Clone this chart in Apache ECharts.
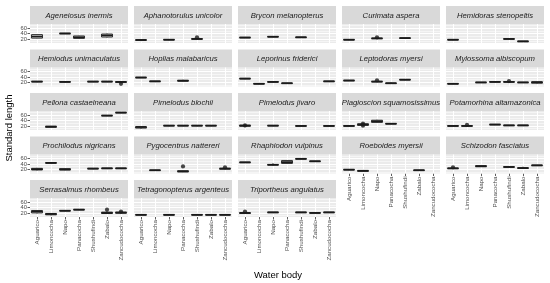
<!DOCTYPE html>
<html><head><meta charset="utf-8">
<script src="https://cdn.jsdelivr.net/npm/echarts@6/dist/echarts.min.js"></script>
<style>html,body{margin:0;padding:0;background:#fff}#c{width:550px;height:283px}</style>
</head><body><div id="c"></div>
<script>
// ---------- DATA ----------
const waterBodies = ['Aguarico','Limoncocha','Napo','Panacocha','Shushufindi','Zabalo','Zancudococha'];
const yTicks = [20, 40, 60];
const species = [
  'Ageneiosus inermis','Aphanotorulus unicolor','Brycon melanopterus','Curimata aspera','Hemidoras stenopeltis',
  'Hemiodus unimaculatus','Hoplias malabaricus','Leporinus friderici','Leptodoras myersi','Mylossoma albiscopum',
  'Pellona castaelneana','Pimelodus blochii','Pimelodus jivaro','Plagioscion squamosissimus','Potamorhina altamazonica',
  'Prochilodus nigricans','Pygocentrus nattereri','Rhaphiodon vulpinus','Roeboides myersii','Schizodon fasciatus',
  'Serrasalmus rhombeus','Tetragonopterus argenteus','Triportheus angulatus'
];
// [water body, min, q1, median, q3, max]
const ageneiosusInermis = [['Aguarico',22,23,29,36,37],['Napo',38,39,40,41,42],['Panacocha',21,22,26,31,32],['Zabalo',25,27,33,38,40]];
const aphanotorulusUnicolor = [['Aguarico',12,15,16,17,18],['Napo',15,16,17,18,18],['Shushufindi',18,19,20,21,22]];
const bryconMelanopterus = [['Aguarico',23,24,25,26,26],['Napo',26,27,28,29,29],['Shushufindi',25,25,26,27,27]];
const curimataAspera = [['Aguarico',15,16,17,18,18],['Napo',20,21,22,23,23],['Shushufindi',22,22,23,24,24]];
const hemidorasStenopeltis = [['Aguarico',15,16,17,18,18],['Shushufindi',18,19,20,21,21],['Zabalo',9,10,11,12,12]];
const hemiodusUnimaculatus = [['Aguarico',21,22,23,24,24],['Napo',19,21,22,23,25],['Shushufindi',22,22,23,24,24],['Zabalo',22,22,23,24,24],['Zancudococha',16,20,22,23,24]];
const hopliasMalabaricus = [['Aguarico',36,37,38,39,39],['Limoncocha',22,23,24,25,25],['Panacocha',24,25,26,28,30]];
const leporinusFriderici = [['Aguarico',32,33,34,35,35],['Limoncocha',13,14,15,16,16],['Napo',20,21,22,23,23],['Panacocha',15,16,17,18,18],['Zancudococha',22,23,24,25,25]];
const leptodorasMyersi = [['Aguarico',25,26,27,28,28],['Napo',21,22,23,24,24],['Panacocha',14,16,17,18,20],['Shushufindi',28,29,30,31,31]];
const mylossomaAlbiscopum = [['Aguarico',13,14,15,16,16],['Napo',18,19,20,21,21],['Panacocha',20,21,22,23,23],['Shushufindi',20,21,22,23,23],['Zabalo',18,19,20,21,21],['Zancudococha',14,17,21,22,22]];
const pellonaCastaelneana = [['Limoncocha',14,15,17,19,20],['Zabalo',56,57,58,59,59],['Zancudococha',67,68,69,70,70]];
const pimelodusBlochii = [['Aguarico',9,12,16,17,17],['Napo',19,20,21,22,22],['Panacocha',19,20,21,22,22],['Shushufindi',19,20,21,22,22],['Zabalo',19,20,21,22,22]];
const pimelodusJivaro = [['Aguarico',15,19,21,23,27],['Napo',19,20,21,22,22],['Shushufindi',18,19,20,21,21],['Zancudococha',18,19,20,21,21]];
const plagioscionSquamosissimus = [['Aguarico',18,19,20,21,21],['Limoncocha',18,22,25,28,32],['Napo',31,33,37,41,43],['Panacocha',26,27,28,29,29]];
const potamorhinaAltamazonica = [['Aguarico',18,19,20,21,21],['Limoncocha',18,19,20,21,22],['Panacocha',23,24,25,26,26],['Shushufindi',20,21,22,23,23],['Zabalo',20,21,22,23,23]];
const prochilodusNigricans = [['Aguarico',16,18,21,24,26],['Limoncocha',42,43,44,45,45],['Napo',17,18,20,23,24],['Shushufindi',21,22,23,24,24],['Zabalo',22,23,24,25,25],['Zancudococha',22,23,24,25,25]];
const pygocentrusNattereri = [['Limoncocha',15,16,17,18,18],['Panacocha',10,11,13,15,16],['Zancudococha',20,21,23,24,25]];
const rhaphiodonVulpinus = [['Aguarico',44,45,46,47,47],['Napo',33,36,37,38,43],['Panacocha',40,42,47,53,54],['Shushufindi',57,58,59,60,60],['Zabalo',48,49,50,51,51]];
const roeboidesMyersii = [['Aguarico',17,18,19,20,20],['Limoncocha',12,13,15,16,17],['Zabalo',15,16,17,18,18]];
const schizodonFasciatus = [['Aguarico',21,23,24,25,26],['Napo',29,30,32,34,34],['Shushufindi',27,28,29,30,30],['Zabalo',22,24,25,26,30],['Zancudococha',33,34,35,36,36]];
const serrasalmusRhombeus = [['Aguarico',18,20,25,29,30],['Limoncocha',11,13,16,18,19],['Napo',26,27,28,29,29],['Panacocha',30,31,32,33,33],['Zabalo',16,18,20,23,26],['Zancudococha',17,19,21,23,25]];
const tetragonopterusArgenteus = [['Aguarico',11,12,13,14,14],['Napo',11,12,13,14,14],['Shushufindi',11,12,13,14,14],['Zabalo',11,12,13,14,14],['Zancudococha',11,12,13,14,14]];
const triportheusAngulatus = [['Aguarico',16,18,20,21,22],['Napo',20,21,22,23,23],['Shushufindi',20,21,22,23,23],['Zabalo',18,19,20,21,21],['Zancudococha',20,21,22,23,23]];
// [species, water body, value]
const outlierPoints = [
  ['Aphanotorulus unicolor','Shushufindi',26],
  ['Curimata aspera','Napo',26],
  ['Hemiodus unimaculatus','Zancudococha',15],
  ['Leptodoras myersi','Napo',28],
  ['Mylossoma albiscopum','Shushufindi',25],
  ['Pimelodus jivaro','Aguarico',22],
  ['Plagioscion squamosissimus','Limoncocha',21],
  ['Plagioscion squamosissimus','Limoncocha',29],
  ['Potamorhina altamazonica','Limoncocha',24],
  ['Pygocentrus nattereri','Panacocha',31],
  ['Pygocentrus nattereri','Zancudococha',28],
  ['Schizodon fasciatus','Aguarico',28],
  ['Serrasalmus rhombeus','Zabalo',32],
  ['Serrasalmus rhombeus','Zancudococha',25],
  ['Triportheus angulatus','Aguarico',25]
];
const panelBoxes = [
  ageneiosusInermis, aphanotorulusUnicolor, bryconMelanopterus, curimataAspera, hemidorasStenopeltis,
  hemiodusUnimaculatus, hopliasMalabaricus, leporinusFriderici, leptodorasMyersi, mylossomaAlbiscopum,
  pellonaCastaelneana, pimelodusBlochii, pimelodusJivaro, plagioscionSquamosissimus, potamorhinaAltamazonica,
  prochilodusNigricans, pygocentrusNattereri, rhaphiodonVulpinus, roeboidesMyersii, schizodonFasciatus,
  serrasalmusRhombeus, tetragonopterusArgenteus, triportheusAngulatus
];

// ---------- LAYOUT ----------
const COL_LEFT = 30, COL_PITCH = 104, PANEL_W = 98;
const ROW_TOP = 6, ROW_PITCH = 43.5, STRIP_H = 18, PLOT_H = 19;
const Y_MIN = 5, Y_MAX = 75;
const FONT = '"Liberation Sans", Arial, sans-serif';

const chart = echarts.init(document.getElementById('c'), null, {renderer: 'canvas'});

function renderBox(params, api) {
  const x = api.value(0);
  const pMin = api.coord([x, api.value(1)]);
  const pQ1 = api.coord([x, api.value(2)]);
  const pMed = api.coord([x, api.value(3)]);
  const pQ3 = api.coord([x, api.value(4)]);
  const pMax = api.coord([x, api.value(5)]);
  const w = api.size([1, 0])[0] * 0.78;
  const cx = pMed[0];
  const stroke = '#333333';
  return {
    type: 'group',
    children: [
      {type: 'line', shape: {x1: cx, y1: pMin[1], x2: cx, y2: pQ1[1]}, style: {stroke, lineWidth: 1}},
      {type: 'line', shape: {x1: cx, y1: pQ3[1], x2: cx, y2: pMax[1]}, style: {stroke, lineWidth: 1}},
      {type: 'rect', shape: {x: cx - w / 2, y: pQ3[1], width: w, height: Math.max(pQ1[1] - pQ3[1], 0.1)},
        style: {fill: '#ffffff', stroke, lineWidth: 1}},
      {type: 'line', shape: {x1: cx - w / 2, y1: pMed[1], x2: cx + w / 2, y2: pMed[1]}, style: {stroke: '#1a1a1a', lineWidth: 1.8}}
    ]
  };
}

const grids = [], xAxes = [], yAxes = [], series = [], graphics = [];
const minorLine = {color: '#ffffff', width: 0.5, type: 'solid'};
const majorLine = {color: '#ffffff', width: 1.1, type: 'solid'};

species.forEach((name, i) => {
  const col = i % 5, row = Math.floor(i / 5);
  const left = COL_LEFT + col * COL_PITCH;
  const stripTop = ROW_TOP + row * ROW_PITCH;
  const top = stripTop + STRIP_H;
  const isBottom = row === 4 || (row === 3 && col >= 3);
  grids.push({left, top, width: PANEL_W, height: PLOT_H, show: true, backgroundColor: '#EBEBEB', borderWidth: 0, containLabel: false});
  xAxes.push({
    gridIndex: i, type: 'category', data: waterBodies, boundaryGap: true, position: 'bottom',
    axisLine: {show: false},
    axisTick: {show: isBottom, alignWithLabel: true, length: 2.5, lineStyle: {color: '#333333', width: 0.8}},
    axisLabel: {show: isBottom, rotate: 90, interval: 0, fontSize: 6.2, color: '#4D4D4D', margin: 3, fontFamily: FONT},
    splitLine: {show: false}
  });
  const yIdx = yAxes.length;
  yAxes.push({
    gridIndex: i, type: 'value', min: Y_MIN, max: Y_MAX, position: 'left', offset: 0,
    axisLine: {show: false}, axisTick: {show: false}, axisLabel: {show: false}, splitLine: {show: false}
  });
  if (col === 0) {
    // one label axis per tick value so the tightly packed labels are not dropped as overlapping
    yTicks.forEach(v => {
      yAxes.push({
        gridIndex: i, type: 'value', min: Y_MIN, max: Y_MAX, position: 'left', offset: 0,
        axisLine: {show: false}, splitLine: {show: false},
        axisTick: {show: true, customValues: [v], length: 2.5, lineStyle: {color: '#333333', width: 0.8}},
        axisLabel: {show: true, customValues: [v], fontSize: 5.8, color: '#4D4D4D', margin: 3, fontFamily: FONT}
      });
    });
  }
  const lines = [];
  [10, 30, 50, 70].forEach(v => lines.push({yAxis: v, lineStyle: minorLine}));
  yTicks.forEach(v => lines.push({yAxis: v, lineStyle: majorLine}));
  waterBodies.forEach(w => lines.push({xAxis: w, lineStyle: majorLine}));
  series.push({
    type: 'scatter', xAxisIndex: i, yAxisIndex: yIdx, data: [[waterBodies[0], Y_MIN]], symbolSize: 0, z: 1, silent: true,
    markLine: {z: 1, silent: true, symbol: ['none', 'none'], label: {show: false}, animation: false, data: lines}
  });
  series.push({
    type: 'custom', xAxisIndex: i, yAxisIndex: yIdx, z: 3, silent: true,
    renderItem: renderBox,
    encode: {x: 0, y: [1, 2, 3, 4, 5]},
    data: panelBoxes[i].map(b => [waterBodies.indexOf(b[0]), b[1], b[2], b[3], b[4], b[5]])
  });
  const pts = outlierPoints.filter(p => p[0] === name).map(p => [waterBodies.indexOf(p[1]), p[2]]);
  if (pts.length) {
    series.push({type: 'scatter', xAxisIndex: i, yAxisIndex: yIdx, z: 4, silent: true, symbolSize: 4.2,
      itemStyle: {color: '#1a1a1a'}, data: pts});
  }
  graphics.push({type: 'rect', shape: {x: left, y: stripTop, width: PANEL_W, height: STRIP_H}, style: {fill: '#D9D9D9'}, silent: true});
  graphics.push({type: 'text', x: left + PANEL_W / 2, y: stripTop + STRIP_H / 2 + 0.5,
    style: {text: name, align: 'center', verticalAlign: 'middle', font: 'italic 7.7px ' + FONT, fill: '#1A1A1A'}, silent: true});
});

graphics.push({type: 'text', x: 278, y: 275, style: {text: 'Water body', align: 'center', verticalAlign: 'middle', font: '9.5px ' + FONT, fill: '#000'}});
graphics.push({type: 'text', x: 9, y: 128, rotation: Math.PI / 2, style: {text: 'Standard length', align: 'center', verticalAlign: 'middle', font: '9.5px ' + FONT, fill: '#000'}});

chart.setOption({
  animation: false,
  backgroundColor: '#ffffff',
  grid: grids, xAxis: xAxes, yAxis: yAxes, series, graphic: graphics
});
</script></body></html>
